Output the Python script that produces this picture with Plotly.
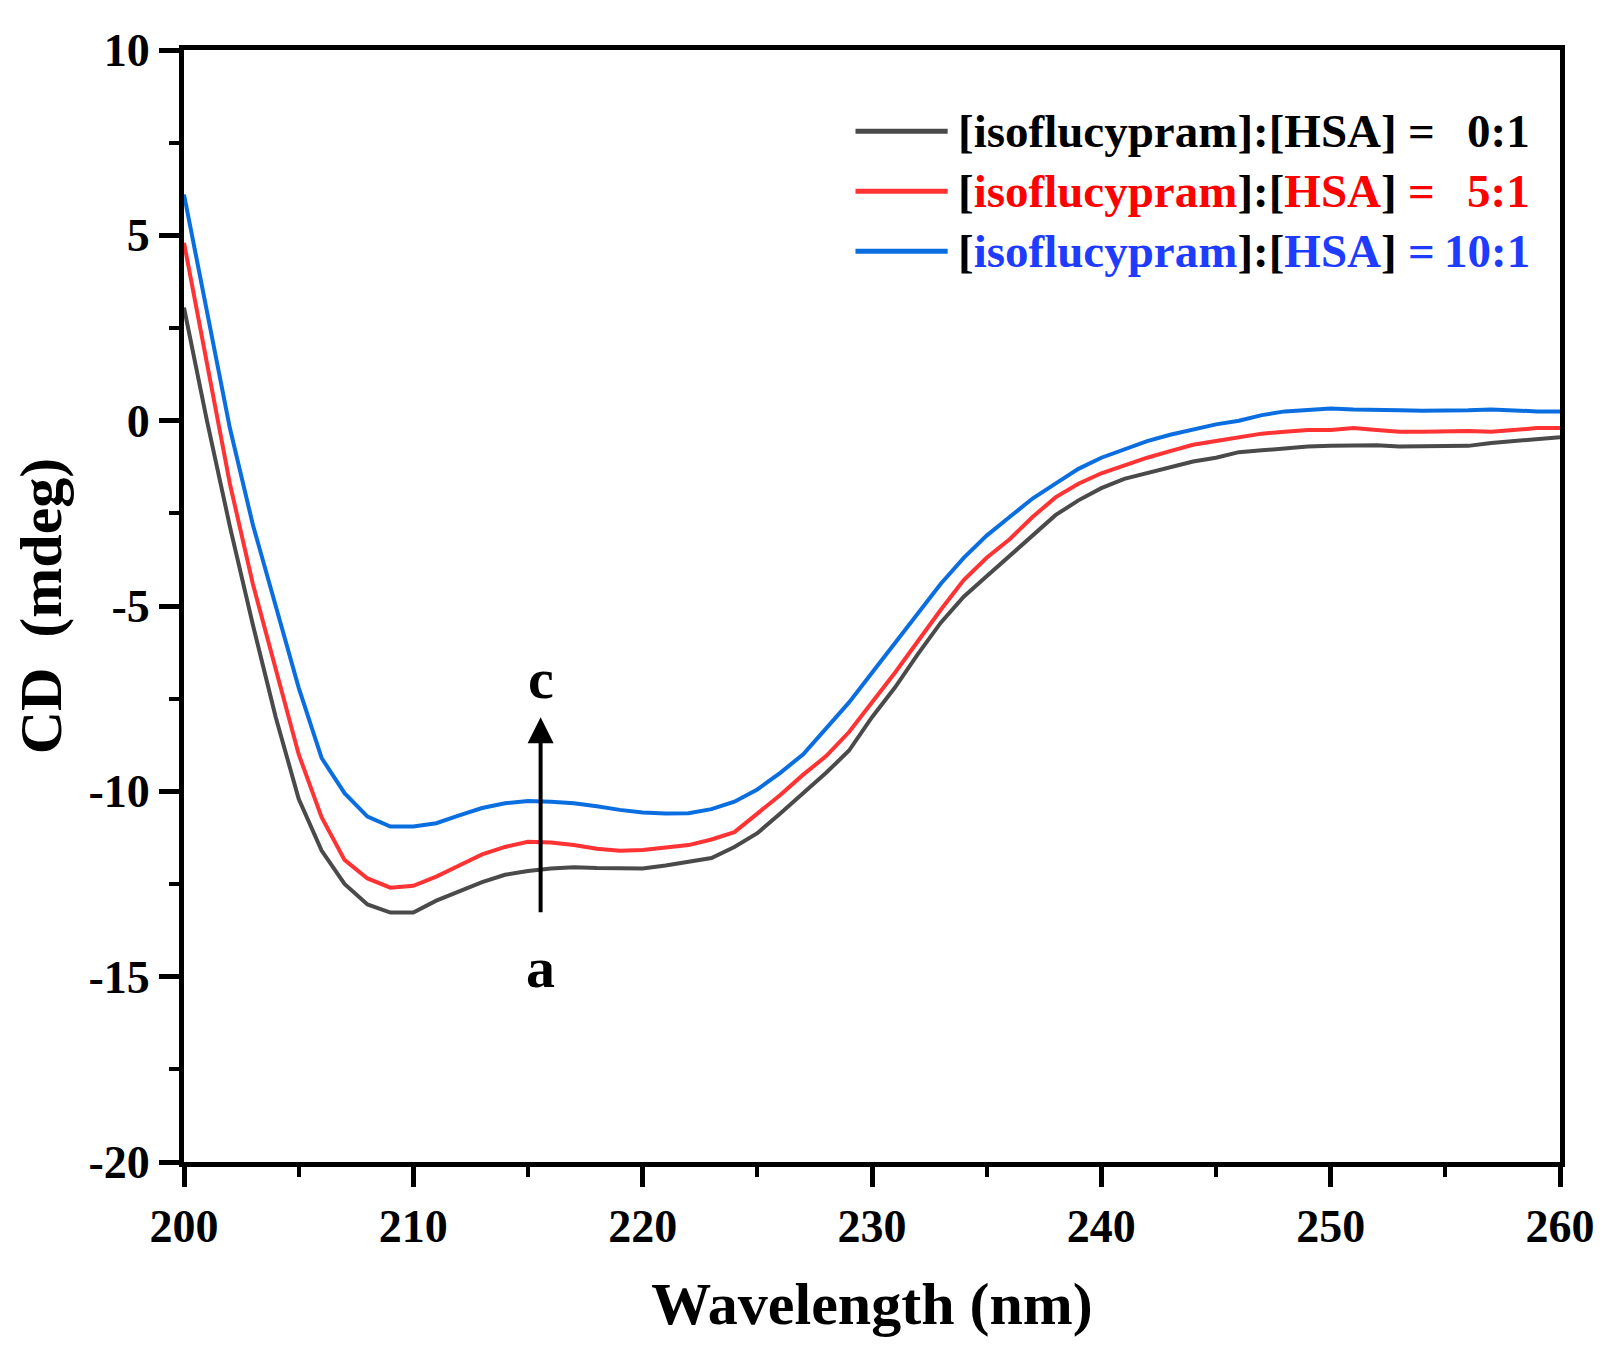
import plotly.graph_objects as go

#%% data
wavelength = list(range(200, 261))

cd_0_1 = [3.05, 0.0, -2.85, -5.5, -8.0, -10.2, -11.6, -12.5, -13.05, -13.27,
          -13.27, -12.95, -12.7, -12.45, -12.25, -12.15, -12.08, -12.05, -12.07, -12.08,
          -12.08, -12.0, -11.9, -11.8, -11.5, -11.13, -10.6, -10.05, -9.5, -8.9,
          -8.0, -7.2, -6.3, -5.45, -4.75, -4.2, -3.65, -3.1, -2.55, -2.15,
          -1.82, -1.57, -1.42, -1.25, -1.1, -1.0, -0.85, -0.8, -0.75, -0.7,
          -0.68, -0.67, -0.66, -0.7, -0.7, -0.7, -0.68, -0.6, -0.55, -0.5,
          -0.45]

cd_5_1 = [4.8, 1.5, -1.7, -4.4, -6.7, -9.0, -10.7, -11.85, -12.35, -12.6,
          -12.55, -12.3, -12.0, -11.7, -11.5, -11.36, -11.38, -11.45, -11.55, -11.6,
          -11.58, -11.52, -11.45, -11.3, -11.1, -10.6, -10.1, -9.55, -9.05, -8.4,
          -7.6, -6.8, -5.95, -5.1, -4.3, -3.7, -3.2, -2.6, -2.07, -1.7,
          -1.42, -1.2, -1.0, -0.82, -0.65, -0.55, -0.45, -0.35, -0.3, -0.25,
          -0.25, -0.2, -0.25, -0.3, -0.3, -0.28, -0.28, -0.3, -0.25, -0.2,
          -0.2]

cd_10_1 = [6.1, 3.0, -0.2, -2.8, -5.0, -7.2, -9.1, -10.05, -10.68, -10.95,
           -10.95, -10.86, -10.65, -10.45, -10.32, -10.26, -10.28, -10.32, -10.4, -10.5,
           -10.57, -10.6, -10.59, -10.48, -10.28, -9.95, -9.5, -9.0, -8.3, -7.6,
           -6.8, -6.0, -5.2, -4.4, -3.7, -3.1, -2.6, -2.1, -1.7, -1.3,
           -1.0, -0.78, -0.55, -0.38, -0.25, -0.1, 0.0, 0.15, 0.25, 0.3,
           0.33, 0.3, 0.28, 0.28, 0.27, 0.27, 0.28, 0.3, 0.27, 0.25,
           0.25]

ratios = ['0:1', '5:1', '10:1']
line_colors = ['#4a4a4a', '#ff3333', '#0a6ee0']
text_colors = ['#000000', '#ff0000', '#1e3cff']
series = [cd_0_1, cd_5_1, cd_10_1]

# tick labels use a plain hyphen like the original figure
y_ticks = [-20, -15, -10, -5, 0, 5, 10]
y_ticktext = ['-20', '-15', '-10', '-5', '0', '5', '10']

font_family = 'Liberation Serif'

fig = go.Figure()
for ratio, ys, col in zip(ratios, series, line_colors):
    fig.add_trace(go.Scatter(x=wavelength, y=ys, mode='lines', name=ratio,
                             line=dict(color=col, width=4), showlegend=False))

#%% hand-made legend (long line samples, black brackets)
row_y = [0.927, 0.873, 0.819]
for ratio, lc, tc, yy in zip(ratios, line_colors, text_colors, row_y):
    fig.add_shape(type='line', xref='paper', yref='paper', x0=0.488, x1=0.555,
                  y0=yy, y1=yy, line=dict(color=lc, width=5))
    label = ('[<span style="color:{0}">isoflucypram</span>]:'
             '[<span style="color:{0}">HSA</span>]').format(tc)
    fig.add_annotation(xref='paper', yref='paper', x=0.561, y=yy, text=label,
                       showarrow=False, xanchor='left', yanchor='middle',
                       font=dict(family=font_family, size=47, color='black', weight='bold'))
    fig.add_annotation(xref='paper', yref='paper', x=0.899, y=yy, text='=',
                       showarrow=False, xanchor='center', yanchor='middle',
                       font=dict(family=font_family, size=47, color=tc, weight='bold'))
    fig.add_annotation(xref='paper', yref='paper', x=0.980, y=yy, text=ratio,
                       showarrow=False, xanchor='right', yanchor='middle',
                       font=dict(family=font_family, size=47, color=tc, weight='bold'))

#%% arrow a -> c
fig.add_annotation(x=215.55, y=-8.0, ax=215.55, ay=-13.3, axref='x', ayref='y',
                   text='', showarrow=True, arrowhead=2, arrowsize=1.3,
                   arrowwidth=4, arrowcolor='black')
fig.add_annotation(x=215.55, y=-6.95, text='c', showarrow=False,
                   font=dict(family=font_family, size=58, color='black', weight='bold'))
fig.add_annotation(x=215.55, y=-14.75, text='a', showarrow=False,
                   font=dict(family=font_family, size=58, color='black', weight='bold'))

axis_common = dict(showline=True, linewidth=5, linecolor='black', mirror=True,
                   showgrid=False, zeroline=False, ticks='outside', ticklen=20,
                   tickwidth=5, tickcolor='black',
                   tickfont=dict(family=font_family, size=46, color='black', weight='bold'))

fig.update_xaxes(range=[200, 260], dtick=10, tick0=200,
                 minor=dict(dtick=5, ticks='outside', ticklen=10, tickwidth=4, tickcolor='black'),
                 title=dict(text='Wavelength (nm)', standoff=32,
                            font=dict(family=font_family, size=60, color='black', weight='bold')),
                 **axis_common)
fig.update_yaxes(range=[-20, 10], tickvals=y_ticks, ticktext=y_ticktext,
                 minor=dict(dtick=2.5, ticks='outside', ticklen=10, tickwidth=4, tickcolor='black'),
                 title=dict(text='CD  (mdeg)', standoff=15,
                            font=dict(family=font_family, size=60, color='black', weight='bold')),
                 **axis_common)

# page body adds 8px around the plot div, so the figure is 16px smaller
fig.update_layout(width=1600, height=1344, plot_bgcolor='white', paper_bgcolor='white',
                  margin=dict(l=176, r=48, t=42, b=190))

fig.write_html("out.html")
